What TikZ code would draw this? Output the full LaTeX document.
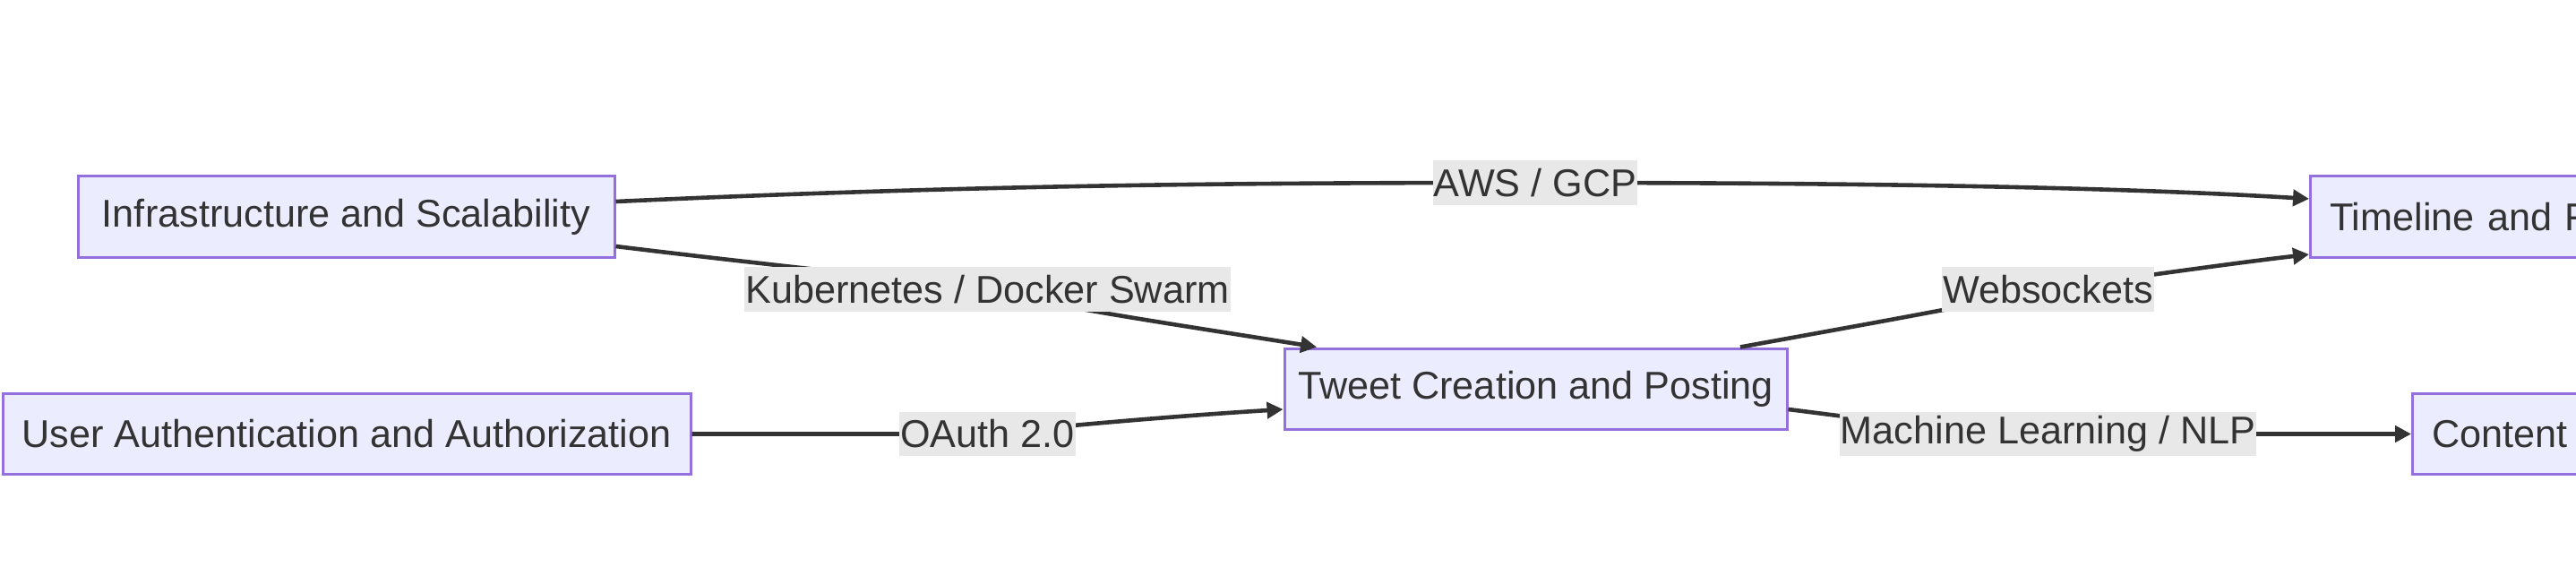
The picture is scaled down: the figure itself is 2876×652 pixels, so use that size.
\documentclass[tikz,border=0pt]{standalone}
\usepackage{fontspec}
\setmainfont{Liberation Sans}
\usetikzlibrary{arrows.meta}

\definecolor{boxfill}{HTML}{ECECFF}
\definecolor{boxline}{HTML}{9370DB}
\definecolor{lblfill}{HTML}{E8E8E8}
\definecolor{ink}{HTML}{333333}

\tikzset{
    box/.style={draw=boxline, fill=boxfill, line width=0.75pt, minimum height=22.5pt, inner sep=0pt, text=ink},
    sidebox/.style={box, anchor=west, text width=160pt, inner xsep=5.4pt, align=left},
    lbl/.style={fill=lblfill, inner xsep=0.3pt, inner ysep=0pt, minimum height=12.3pt, text=ink},
    edge/.style={draw=ink, line width=1.15pt, -{Triangle[length=4.5pt, width=4.5pt]}},
}

\begin{document}
\begin{tikzpicture}[x=0.25pt, y=-0.25pt, font=\fontsize{10.8pt}{13pt}\selectfont]
        \fill[white] (0,0) rectangle (2876,652);
        \useasboundingbox (0,0) rectangle (2876,652);
        \clip (0,0) rectangle (2876,652);

        \node[box, minimum width=149.75pt] (infra) at (386.5,242) {Infrastructure and Scalability};
        \node[box, minimum width=192pt] (user) at (387,484.5) {User Authentication and Authorization};
        \node[box, minimum width=140.25pt] (tweet) at (1714.5,434) {Tweet Creation and Posting};
        \node[sidebox] (timeline) at (2578,242) {Timeline and F};
        \node[sidebox] (content) at (2692,484.5) {Content};

        \draw[edge] ([yshift=4.25pt]infra.east) .. controls (1100,206) and (1400,204) .. (1714,204)
            node[lbl] (aws) {AWS / GCP}
            .. controls (2050,204) and (2350,208) .. ([yshift=5pt]timeline.west);
        \draw[edge] ([yshift=-8.25pt]infra.east) .. controls (850,295) and (1000,310) .. (1102.5,323)
            node[lbl] (kube) {Kubernetes / Docker Swarm}
            .. controls (1160,340) and (1330,365) .. ([xshift=-61.1pt]tweet.north);
        \draw[edge] (user.east) .. controls (950,484.5) and (1000,484.5) .. (1102.5,484.5)
            node[lbl] (oauth) {OAuth 2.0}
            .. controls (1200,474) and (1320,464) .. ([yshift=-5.75pt]tweet.west);
        \draw[edge] ([xshift=57.1pt]tweet.north) .. controls (2050,368) and (2180,345) .. (2286.5,323)
            node[lbl] (ws) {Websockets}
            .. controls (2400,307) and (2500,293) .. ([yshift=-10.5pt]timeline.west);
        \draw[edge] ([yshift=-5.75pt]tweet.east) .. controls (2100,470) and (2200,484.5) .. (2286.5,484.5)
            node[lbl] (ml) {Machine Learning / NLP}
            .. controls (2450,484.5) and (2550,484.5) .. (content.west);
\end{tikzpicture}
\end{document}
